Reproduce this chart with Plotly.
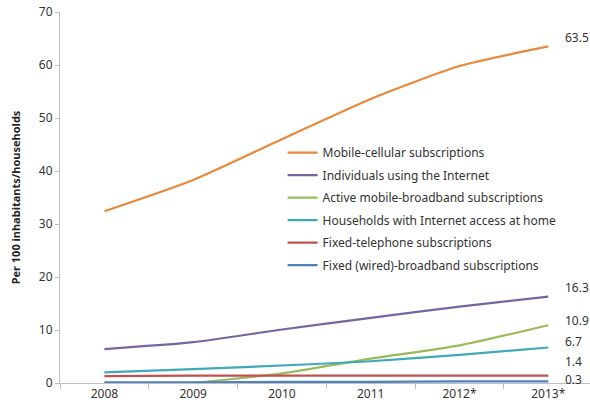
import plotly.graph_objects as go

years = ["2008", "2009", "2010", "2011", "2012*", "2013*"]
mobile_cellular = [32.4, 38.3, 46.0, 53.6, 59.8, 63.5]
internet_users = [6.4, 7.7, 10.1, 12.3, 14.4, 16.3]
mobile_broadband_years = ["2009", "2010", "2011", "2012*", "2013*"]
mobile_broadband = [0.0, 1.8, 4.6, 7.1, 10.9]
households_internet = [2.0, 2.6, 3.3, 4.1, 5.3, 6.7]
fixed_telephone = [1.3, 1.4, 1.4, 1.4, 1.4, 1.4]
fixed_broadband = [0.1, 0.1, 0.2, 0.2, 0.3, 0.3]

series = [
    ("Mobile-cellular subscriptions", years, mobile_cellular, "#E8893B"),
    ("Individuals using the Internet", years, internet_users, "#7B62A0"),
    ("Active mobile-broadband subscriptions", mobile_broadband_years, mobile_broadband, "#9BBB59"),
    ("Households with Internet access at home", years, households_internet, "#3FA9B8"),
    ("Fixed-telephone subscriptions", years, fixed_telephone, "#C0504D"),
    ("Fixed (wired)-broadband subscriptions", years, fixed_broadband, "#4F81BD"),
]

end_labels = ["63.5", "16.3", "10.9", "6.7", "1.4", "0.3"]
label_shifts = [9, 9, 5, 6, 14, 2]

fig = go.Figure()
for i, (name, xs, ys, color) in enumerate(series):
    fig.add_trace(go.Scatter(
        x=xs, y=ys, name=name, mode="lines",
        line=dict(color=color, width=2.2, shape="spline", smoothing=0.6),
        legendgroup=f"g{i}",
    ))

for (name, xs, ys, color), lab, sh in zip(series, end_labels, label_shifts):
    fig.add_annotation(x=xs[-1], y=ys[-1], text=lab, showarrow=False,
                       xshift=15, yshift=sh, xanchor="left", yanchor="middle",
                       font=dict(size=12, color="#333333", family="Noto Sans"))

fig.update_layout(
    width=590, height=410,
    margin=dict(l=60, r=0, t=12, b=27),
    paper_bgcolor="white", plot_bgcolor="white",
    font=dict(family="Noto Sans", size=12, color="#333333"),
    showlegend=True,
    legend=dict(x=0.42, y=0.66, xanchor="left", yanchor="top", itemwidth=30,
                bgcolor="rgba(0,0,0,0)", font=dict(size=12, color="#333333"),
                tracegroupgap=3.5, traceorder="grouped"),
    xaxis=dict(type="category", categoryorder="array", categoryarray=years,
               range=[-0.5, 5.47], showline=True, linecolor="#BFBFBF", linewidth=1,
               ticks="outside", tickson="boundaries", ticklen=5, tickcolor="#BFBFBF",
               showgrid=False, zeroline=False, automargin=False,
               tickfont=dict(size=12, color="#333333")),
    yaxis=dict(range=[0, 70], dtick=10, showline=True, linecolor="#BFBFBF", linewidth=1,
               ticks="outside", ticklen=4, tickcolor="#BFBFBF", showgrid=False, zeroline=False,
               automargin=False,
               tickfont=dict(size=12, color="#333333"),
               title=dict(text="<b>Per 100 inhabitants/households</b>", standoff=16,
                          font=dict(size=11, color="#222222"))),
)

fig.write_html("out.html", config={"displayModeBar": False},
               post_script="document.body.style.margin='0';document.body.style.overflow='hidden';")
